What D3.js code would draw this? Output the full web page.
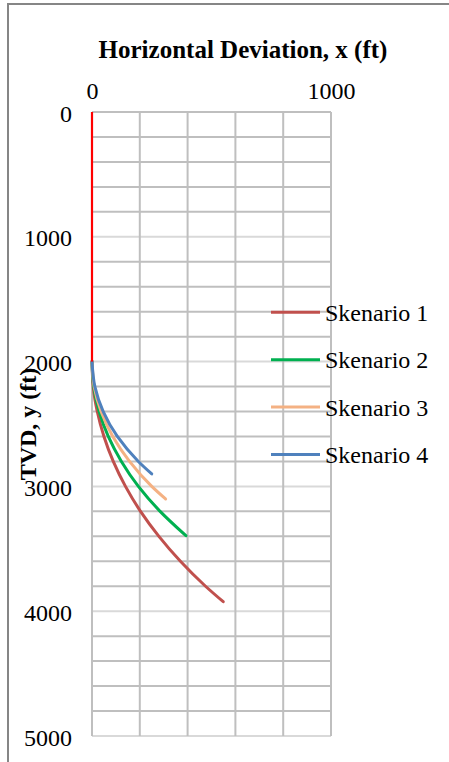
<!DOCTYPE html>
<html>
<head>
<meta charset="utf-8">
<script src="https://cdn.jsdelivr.net/npm/d3@7"></script>
<style>
  body { margin: 0; background: #fff; }
  text { font-family: "Liberation Serif", "Times New Roman", serif; fill: #000; }
</style>
</head>
<body>
<svg class="chart"></svg>
<script>
// DATA /////////////////////////////////////////
const seriesNames = ["Skenario 1", "Skenario 2", "Skenario 3", "Skenario 4"];
const seriesColors = ["#c0504d", "#00b050", "#f4b183", "#4f81bd"];

const depth1 = [2000, 2200, 2400, 2600, 2800, 3000, 3200, 3400, 3600, 3800, 3924];
const dev1 = [0, 5, 22, 50, 89, 140, 203, 280, 370, 475, 549];
const depth2 = [2000, 2200, 2400, 2600, 2800, 3000, 3200, 3395];
const dev2 = [0, 7, 30, 68, 123, 194, 285, 393];
const depth3 = [2000, 2200, 2400, 2600, 2800, 3000, 3101];
const dev3 = [0, 9, 38, 87, 157, 250, 308];
const depth4 = [2000, 2200, 2400, 2600, 2800, 2900];
const dev4 = [0, 12, 47, 106, 194, 250];

// vertical section above the kick-off point
const verticalDepth = [0, 2000];
const verticalDev = [0, 0];

const xTicks = [0, 1000];
const yTicks = [0, 1000, 2000, 3000, 4000, 5000];

// DEFINITIONS //////////////////////////////////
const width = 449;
const height = 762;

const svg = d3.select(".chart").attr("width", width).attr("height", height);

const x = d3.scaleLinear().domain([0, 1000]).range([92, 331]);
const y = d3.scaleLinear().domain([0, 5000]).range([112, 736]);

// chart frame
svg.append("rect")
  .attr("x", 8).attr("y", 4)
  .attr("width", 480).attr("height", 800)
  .attr("fill", "none")
  .attr("stroke", "#868686")
  .attr("stroke-width", 2);

// GRID /////////////////////////////////////////
svg.append("g")
  .selectAll("line")
  .data(d3.range(0, 5001, 200))
  .join("line")
  .attr("x1", x(0)).attr("x2", x(1000))
  .attr("y1", (d) => y(d)).attr("y2", (d) => y(d))
  .attr("stroke", (d) => (d % 1000 === 0 && d > 0 ? "#d9d9d9" : "#bfbfbf"))
  .attr("stroke-width", 2);

svg.append("g")
  .selectAll("line")
  .data(d3.range(0, 1001, 200))
  .join("line")
  .attr("x1", (d) => x(d)).attr("x2", (d) => x(d))
  .attr("y1", y(0)).attr("y2", y(5000))
  .attr("stroke", "#bfbfbf")
  .attr("stroke-width", 2);

// AXES /////////////////////////////////////////
const xAxis = svg.append("g")
  .attr("transform", `translate(0, 99)`)
  .call(d3.axisTop(x).tickValues(xTicks).tickSize(0).tickPadding(0).tickFormat(d3.format("d")));
xAxis.select(".domain").remove();
xAxis.selectAll("text")
  .attr("dy", 0)
  .style("font-size", "24px")
  .style("font-family", "Liberation Serif, Times New Roman, serif")
  .attr("fill", "#000");

const yAxis = svg.append("g")
  .attr("transform", `translate(72, 0)`)
  .call(d3.axisLeft(y).tickValues(yTicks).tickSize(0).tickPadding(0).tickFormat(d3.format("d")));
yAxis.select(".domain").remove();
yAxis.selectAll("text")
  .attr("dy", "0.38em")
  .style("font-size", "24px")
  .style("font-family", "Liberation Serif, Times New Roman, serif")
  .attr("fill", "#000");

// titles
svg.append("text")
  .attr("x", 243).attr("y", 58)
  .attr("text-anchor", "middle")
  .style("font-size", "25px")
  .style("font-weight", "bold")
  .text("Horizontal Deviation, x (ft)");

svg.append("text")
  .attr("transform", `translate(36, ${(y(0) + y(5000)) / 2}) rotate(-90)`)
  .attr("text-anchor", "middle")
  .style("font-size", "24px")
  .style("font-weight", "bold")
  .text("TVD, y (ft)");

// LINES ////////////////////////////////////////
const line = d3.line()
  .x((d) => x(d[0]))
  .y((d) => y(d[1]))
  .curve(d3.curveMonotoneY);

const series = [
  d3.zip(dev1, depth1),
  d3.zip(dev2, depth2),
  d3.zip(dev3, depth3),
  d3.zip(dev4, depth4),
];

svg.append("g")
  .selectAll("path")
  .data(series)
  .join("path")
  .attr("d", line)
  .attr("fill", "none")
  .attr("stroke", (d, i) => seriesColors[i])
  .attr("stroke-width", 3)
  .attr("stroke-linecap", "round");

svg.append("path")
  .attr("d", line(d3.zip(verticalDev, verticalDepth)))
  .attr("fill", "none")
  .attr("stroke", "#ff0000")
  .attr("stroke-width", 2.2);

// LEGEND ///////////////////////////////////////
const legendG = svg.append("g")
  .selectAll("g")
  .data(seriesNames)
  .join("g")
  .attr("transform", (d, i) => `translate(271, ${312.3 + i * 47.4})`);

legendG.append("line")
  .attr("x1", 0).attr("x2", 49)
  .attr("stroke", (d, i) => seriesColors[i])
  .attr("stroke-width", 3);

legendG.append("text")
  .attr("x", 54)
  .attr("dy", "0.35em")
  .style("font-size", "24px")
  .text((d) => d);
</script>
</body>
</html>
